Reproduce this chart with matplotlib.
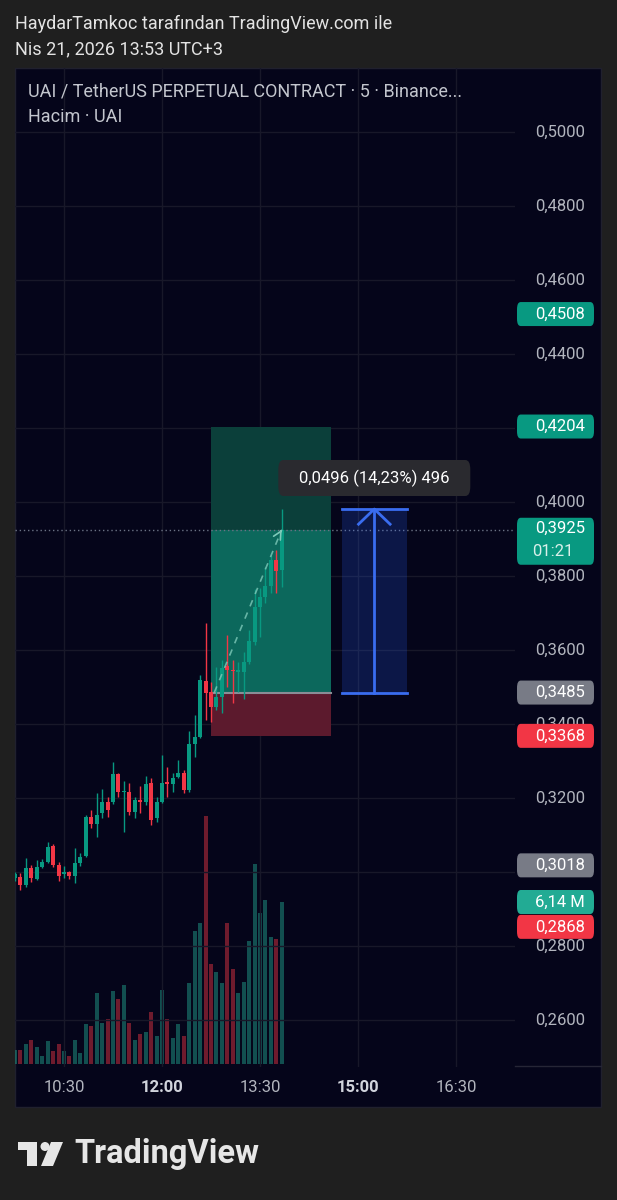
import matplotlib.pyplot as plt
import matplotlib.patches as mpatches
import numpy as np
import pandas as pd

plt.rcParams['font.family'] = ['Roboto', 'DejaVu Sans']

# UAI/USDT perp, 5 minute bars
times = pd.date_range("2026-04-21 09:45", "2026-04-21 13:50", freq="5min")
opens = [0.2985, 0.2986, 0.2965, 0.3011, 0.2981, 0.3013, 0.3027, 0.3070, 0.3019, 0.2995,
         0.3000, 0.2989, 0.3024, 0.3043, 0.3149, 0.3130, 0.3159, 0.3189, 0.3190, 0.3265,
         0.3216, 0.3216, 0.3162, 0.3195, 0.3189, 0.3241, 0.3146, 0.3189, 0.3243, 0.3238,
         0.3257, 0.3268, 0.3222, 0.3346, 0.3365, 0.3516, 0.3486, 0.3446, 0.3473, 0.3557,
         0.3546, 0.3541, 0.3541, 0.3568, 0.3622, 0.3716, 0.3743, 0.3773, 0.3843, 0.3816]
highs = [0.3000, 0.2997, 0.3038, 0.3019, 0.3032, 0.3035, 0.3081, 0.3076, 0.3027, 0.3016,
         0.3003, 0.3065, 0.3051, 0.3154, 0.3168, 0.3214, 0.3224, 0.3203, 0.3297, 0.3268,
         0.3246, 0.3241, 0.3203, 0.3232, 0.3259, 0.3254, 0.3203, 0.3316, 0.3284, 0.3268,
         0.3303, 0.3276, 0.3381, 0.3424, 0.3532, 0.3673, 0.3514, 0.3554, 0.3573, 0.3641,
         0.3573, 0.3568, 0.3595, 0.3654, 0.3765, 0.3768, 0.3824, 0.3857, 0.3870, 0.3981]
lows = [0.2975, 0.2951, 0.2959, 0.2973, 0.2978, 0.3011, 0.3024, 0.3013, 0.2976, 0.2984,
        0.2981, 0.2970, 0.3016, 0.3041, 0.3119, 0.3095, 0.3146, 0.3149, 0.3184, 0.3203,
        0.3108, 0.3154, 0.3146, 0.3159, 0.3181, 0.3127, 0.3135, 0.3186, 0.3203, 0.3216,
        0.3254, 0.3214, 0.3216, 0.3311, 0.3362, 0.3411, 0.3405, 0.3438, 0.3430, 0.3500,
        0.3457, 0.3487, 0.3468, 0.3562, 0.3614, 0.3635, 0.3727, 0.3754, 0.3754, 0.3770]
closes = [0.2995, 0.2965, 0.3011, 0.2984, 0.3013, 0.3027, 0.3068, 0.3019, 0.2989, 0.3000,
          0.2989, 0.3024, 0.3041, 0.3149, 0.3130, 0.3154, 0.3189, 0.3168, 0.3265, 0.3216,
          0.3219, 0.3162, 0.3195, 0.3190, 0.3238, 0.3141, 0.3189, 0.3241, 0.3238, 0.3254,
          0.3268, 0.3222, 0.3346, 0.3365, 0.3519, 0.3484, 0.3446, 0.3473, 0.3551, 0.3546,
          0.3543, 0.3546, 0.3568, 0.3624, 0.3716, 0.3743, 0.3773, 0.3843, 0.3814, 0.3925]
volumes = [0.53, 0.53, 0.76, 0.91, 0.64, 0.30, 0.87, 0.49, 0.76, 0.49,
           0.30, 0.91, 0.42, 1.52, 1.44, 2.69, 1.55, 1.71, 2.77, 2.46,
           2.99, 1.55, 0.91, 1.14, 1.21, 1.97, 1.06, 2.80, 1.71, 0.99,
           1.52, 1.06, 3.07, 5.04, 5.34, 9.40, 3.79, 3.49, 3.07, 5.34,
           3.60, 2.69, 3.11, 4.66, 7.58, 5.72, 6.22, 4.81, 4.74, 6.14]  # millions

price_ticks = [0.26, 0.28, 0.30, 0.32, 0.34, 0.36, 0.38, 0.40, 0.42, 0.44, 0.46, 0.48, 0.50]
hidden_ticks = [0.30, 0.42]
time_ticks = ["10:30", "12:00", "13:30", "15:00", "16:30"]
bold_times = ["12:00", "15:00"]

# long position tool
entry_price, target_price, stop_price = 0.3485, 0.4204, 0.3368
pos_start, pos_end = "12:45", "14:35"
last_price, countdown = 0.3925, "01:21"
# side labels on the price scale: (value, colour)
side_labels = [(0.4508, "#089981"), (0.3018, "#787b86"), (0.2868, "#f23645")]
vol_label = 6.14

# measure tool
meas_start, meas_end = "14:45", "15:45"
meas_low, meas_high = 0.3485, 0.3981
meas_text = "0,0496 (14,23%) 496"

GREEN, RED = "#089981", "#f23645"
BG = "#05051a"
W, H = 617, 1200


def fx(px):
    return px / W


def fy(py):
    return 1 - py / H


def bar_idx(hhmm):
    t = pd.Timestamp("2026-04-21 " + hhmm) if isinstance(hhmm, str) else hhmm
    return (t - pd.Timestamp("2026-04-21 10:30")).total_seconds() / 300.0


def fmt(p):
    return f"{p:.4f}".replace(".", ",")


fig = plt.figure(figsize=(W / 100, H / 100), dpi=100, facecolor="#1f1f1f")

# chart pane frame
frame = mpatches.Rectangle((fx(15), fy(1107)), fx(601) - fx(15), fy(68) - fy(1107),
                           transform=fig.transFigure, facecolor=BG, edgecolor="#20202e",
                           lw=1, zorder=-1)
fig.add_artist(frame)

rect = [fx(15), fy(1067), fx(515) - fx(15), fy(68) - fy(1067)]
axv = fig.add_axes(rect)
ax = fig.add_axes(rect, sharex=axv)
for a in (axv, ax):
    a.set_facecolor("none")
    a.axis("off")

ax.set_xlim(-9.0, 82.84)
ax.set_ylim(0.2473, 0.5173)
axv.set_ylim(-0.114, 37.75)

x = np.array([bar_idx(t) for t in times])
o, h, l, c = map(np.array, (opens, highs, lows, closes))
up = c >= o
cols = np.where(up, GREEN, RED)

# grid
for p in price_ticks:
    ax.axhline(p, color="#181829", lw=1, zorder=0)
for t in time_ticks:
    ax.axvline(bar_idx(t), color="#181829", lw=1, zorder=0)

# volume
vcols = np.where(up, "#22ab94", RED)
axv.bar(x, volumes, width=0.72, color=vcols, alpha=0.45, zorder=1)

# position tool
xs, xe = bar_idx(pos_start), bar_idx(pos_end)
ax.add_patch(mpatches.Rectangle((xs, last_price), xe - xs, target_price - last_price,
                                facecolor="#0b3f3a", lw=0, zorder=1))
ax.add_patch(mpatches.Rectangle((xs, entry_price), xe - xs, last_price - entry_price,
                                facecolor="#0c685c", lw=0, zorder=1))
ax.add_patch(mpatches.Rectangle((xs, stop_price), xe - xs, entry_price - stop_price,
                                facecolor="#5c1a2d", lw=0, zorder=1))
ax.plot([xs, xe], [entry_price, entry_price], color="#8a8d96", lw=1.5, zorder=2)

# last price dotted line
ax.axhline(last_price, color="#6c7385", lw=1, ls=(0, (1, 2)), zorder=2)

# candles
ax.vlines(x, l, h, colors=cols, lw=1, zorder=3)
body = np.maximum(np.abs(c - o), 0.0003)
ax.bar(x, body, bottom=np.minimum(o, c), width=0.72, color=cols, zorder=4)

# dashed path inside position
x_last = x[-1]
ax.plot([xs + 0.6, x_last], [entry_price, last_price], color="#7ec9b9", lw=1.2,
        ls=(0, (4, 4)), alpha=0.8, zorder=5)
ax.annotate("", xy=(x_last, last_price), xytext=(x_last - 0.35, last_price - 0.0009),
            arrowprops=dict(arrowstyle="->", color="#7ec9b9", lw=1.2, mutation_scale=14),
            zorder=5)

# measure tool
ms, me = bar_idx(meas_start), bar_idx(meas_end)
mc = (ms + me) / 2
ax.add_patch(mpatches.Rectangle((ms, meas_low), me - ms, meas_high - meas_low,
                                facecolor="#2962ff", alpha=0.2, lw=0, zorder=2))
blue = "#3a6df0"
ax.plot([ms, me], [meas_low, meas_low], color=blue, lw=2, zorder=6)
ax.plot([ms, me], [meas_high, meas_high], color=blue, lw=2, zorder=6)
ax.plot([mc, mc], [meas_low, meas_high], color=blue, lw=2, zorder=6)
ax.plot([mc - 2.9, mc, mc + 2.9], [meas_high - 0.0041, meas_high, meas_high - 0.0041],
        color=blue, lw=2, zorder=6)


def py_of(a, v):
    return H - a.transData.transform((0, v))[1]


mx_px = ax.transData.transform((mc, 0))[0]
box = mpatches.FancyBboxPatch((fx(mx_px - 96), fy(496)), 192 / W, 36 / H,
                              boxstyle="round,pad=0,rounding_size=0.008",
                              transform=fig.transFigure, facecolor="#2a2a2f", lw=0, zorder=7)
fig.add_artist(box)
fig.text(fx(mx_px), fy(478), meas_text, ha="center", va="center", color="white",
         fontsize=12, zorder=8)

# price scale
for p in price_ticks:
    if p in hidden_ticks:
        continue
    fig.text(fx(585), fy(py_of(ax, p)), fmt(p), ha="right", va="center",
             color="#b2b5be", fontsize=12, zorder=4)


def scale_label(yc, text, color, height=24):
    patch = mpatches.FancyBboxPatch((fx(517), fy(yc + height / 2)), 77 / W, height / H,
                                    boxstyle="round,pad=0,rounding_size=0.006",
                                    transform=fig.transFigure, facecolor=color, lw=0, zorder=5)
    fig.add_artist(patch)
    fig.text(fx(585), fy(yc), text, ha="right", va="center", color="white",
             fontsize=12, zorder=6)


scale_label(py_of(ax, target_price), fmt(target_price), GREEN)
scale_label(py_of(ax, entry_price), fmt(entry_price), "#787b86")
scale_label(py_of(ax, stop_price), fmt(stop_price), RED)
for val, col in side_labels:
    yc = py_of(ax, val)
    if val < 0.29:
        yc += 6  # pushed down by the volume label
    scale_label(yc, fmt(val), col)
scale_label(py_of(axv, vol_label), f"{vol_label:.2f}".replace(".", ",") + " M", "#22ab94")

# last price label with countdown
yl = py_of(ax, last_price)
fig.add_artist(mpatches.FancyBboxPatch((fx(517), fy(yl + 35)), 77 / W, 47 / H,
                                       boxstyle="round,pad=0,rounding_size=0.006",
                                       transform=fig.transFigure, facecolor=GREEN, lw=0, zorder=5))
fig.text(fx(585), fy(yl - 1), fmt(last_price), ha="right", va="center", color="white",
         fontsize=12, zorder=6)
fig.text(fx(532), fy(yl + 22), countdown, ha="left", va="center", color="#d8f0ea",
         fontsize=12, zorder=6)

# scale separator
fig.add_artist(plt.Line2D([fx(515), fx(601)], [fy(1066), fy(1066)], color="#262636", lw=1,
                          transform=fig.transFigure))

# time axis
for t in time_ticks:
    xp = ax.transData.transform((bar_idx(t), 0))[0] / W
    bold = t in bold_times
    fig.text(xp, fy(1087), t, ha="center", va="center", fontsize=12,
             color="#d1d4dc" if bold else "#b2b5be", fontweight="bold" if bold else "normal")

# headers
fig.text(fx(15), fy(24), "HaydarTamkoc tarafından TradingView.com ile", ha="left",
         va="center", color="#e3e3e3", fontsize=13)
fig.text(fx(15), fy(49), "Nis 21, 2026 13:53 UTC+3", ha="left", va="center",
         color="#e3e3e3", fontsize=13)
fig.text(fx(28), fy(92), "UAI / TetherUS PERPETUAL CONTRACT · 5 · Binance...", ha="left",
         va="center", color="#c3c6ce", fontsize=13)
fig.text(fx(28), fy(117), "Hacim · UAI", ha="left", va="center", color="#c3c6ce",
         fontsize=13)

# TradingView logo
logo = "#e6e6e6"
tshape = [(18, 1142), (37, 1142), (37, 1166), (27, 1166), (27, 1150), (18, 1150)]
fig.add_artist(mpatches.Polygon([(fx(a), fy(b)) for a, b in tshape], closed=True,
                                transform=fig.transFigure, facecolor=logo, lw=0))
fig.add_artist(mpatches.Ellipse((fx(45), fy(1146.5)), 9 / W, 9 / H,
                                transform=fig.transFigure, facecolor=logo, lw=0))
slash = [(51, 1142), (63, 1142), (53, 1166), (41, 1166)]
fig.add_artist(mpatches.Polygon([(fx(a), fy(b)) for a, b in slash], closed=True,
                                transform=fig.transFigure, facecolor=logo, lw=0))
fig.text(fx(74), fy(1154), "TradingView", ha="left", va="center", color=logo,
         fontsize=23.5, fontweight="bold")

fig.savefig("out.png", dpi=100, facecolor=fig.get_facecolor())
